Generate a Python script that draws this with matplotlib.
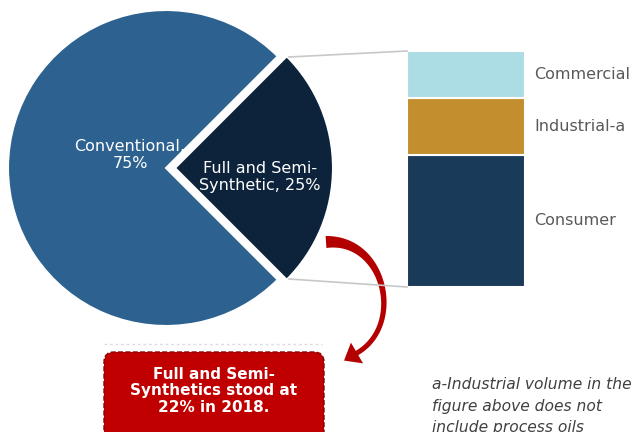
import matplotlib
matplotlib.use("Agg")
import numpy as np
import matplotlib.pyplot as plt
from matplotlib.patches import FancyBboxPatch, Polygon

# Data
pie_labels = ["Conventional,\n75%", "Full and Semi-\nSynthetic, 25%"]
pie_values = [75, 25]
bar_labels = ["Consumer", "Industrial-a", "Commercial"]
bar_values = [56, 24, 20]
callout_text = "Full and Semi-\nSynthetics stood at\n22% in 2018."
footnote = "a-Industrial volume in the\nfigure above does not\ninclude process oils"

pie_colors = ["#2c6190", "#0c233b"]
bar_colors = ["#1a3a5a", "#c38f2e", "#acdde5"]

W, H = 633, 432
fig = plt.figure(figsize=(W / 100, H / 100), dpi=100)
ax = fig.add_axes([0, 0, 1, 1])


def Y(y):
    return H - y


cx, cy, R = 166, 168, 158
wedges, _ = ax.pie(pie_values, startangle=45, colors=pie_colors,
                   explode=[0, 9], center=(cx, Y(cy)), radius=R,
                   frame=True, wedgeprops=dict(edgecolor="white", linewidth=1.5))

ax.text(130, Y(155), pie_labels[0], color="white", fontsize=11.5,
        ha="center", va="center", linespacing=1.2)
ax.text(260, Y(177), pie_labels[1], color="white", fontsize=11.5,
        ha="center", va="center", linespacing=1.2)

# stacked bar
bx0, bx1 = 407, 525
btop, bbot = 51, 287
total = sum(bar_values)
scale = (bbot - btop) / total
bottom = Y(bbot)
ax.bar([(bx0 + bx1) / 2] * len(bar_values), [v * scale for v in bar_values],
       width=bx1 - bx0, bottom=[bottom + sum(bar_values[:i]) * scale for i in range(len(bar_values))],
       color=bar_colors, edgecolor="white", linewidth=1.5)
for i, (lab, v) in enumerate(zip(bar_labels, bar_values)):
    mid = bottom + (sum(bar_values[:i]) + v / 2) * scale
    ax.text(534, mid, lab, color="#595959", fontsize=11.5, ha="left", va="center")

# connector lines
ax.plot([289, bx0], [Y(57), Y(btop)], color="#c8c8c8", lw=1.2)
ax.plot([289, bx0], [Y(279), Y(bbot)], color="#c8c8c8", lw=1.2)

# red callout box
box = FancyBboxPatch((104, Y(442)), 220, 90,
                     boxstyle="round,pad=0,rounding_size=10",
                     facecolor="#c00000", edgecolor="#8a0000", lw=1.0, ls="--")
ax.add_patch(box)
ax.plot([104, 322], [Y(344), Y(344)], color="#dddddd", lw=1, ls=(0, (2, 2)))
ax.text(214, Y(391), callout_text, color="white", fontsize=11, fontweight="bold",
        ha="center", va="center", linespacing=1.15)

# curved tapered arrow
P = np.array([[326, 242], [385, 238], [405, 325], [357, 353]], float)
t = np.linspace(0, 1, 80)[:, None]
pts = ((1 - t) ** 3) * P[0] + 3 * ((1 - t) ** 2) * t * P[1] + 3 * (1 - t) * t ** 2 * P[2] + t ** 3 * P[3]
d = (-3 * (1 - t) ** 2) * P[0] + (3 * (1 - t) ** 2 - 6 * (1 - t) * t) * P[1] + (6 * (1 - t) * t - 3 * t ** 2) * P[2] + 3 * t ** 2 * P[3]
d = d / np.linalg.norm(d, axis=1)[:, None]
nrm = np.column_stack([-d[:, 1], d[:, 0]])
wid = (5 + 7 * (1 - t[:, 0]) ** 3)[:, None] / 2
left = pts + nrm * wid
right = pts - nrm * wid
end, dend = pts[-1], d[-1]
nend = nrm[-1]
head = [end + nend * 12, end + dend * 15, end - nend * 12]
outline = np.vstack([left, head, right[::-1]])
outline[:, 1] = H - outline[:, 1]
ax.add_patch(Polygon(outline, closed=True, facecolor="#b30000", edgecolor="none"))

# footnote
ax.text(432, Y(377), footnote, color="#404040", fontsize=11.2, style="italic",
        ha="left", va="top", linespacing=1.55)

ax.set_xlim(0, W)
ax.set_ylim(0, H)
ax.set_aspect("equal")
ax.axis("off")
fig.savefig("out.png", dpi=100)
